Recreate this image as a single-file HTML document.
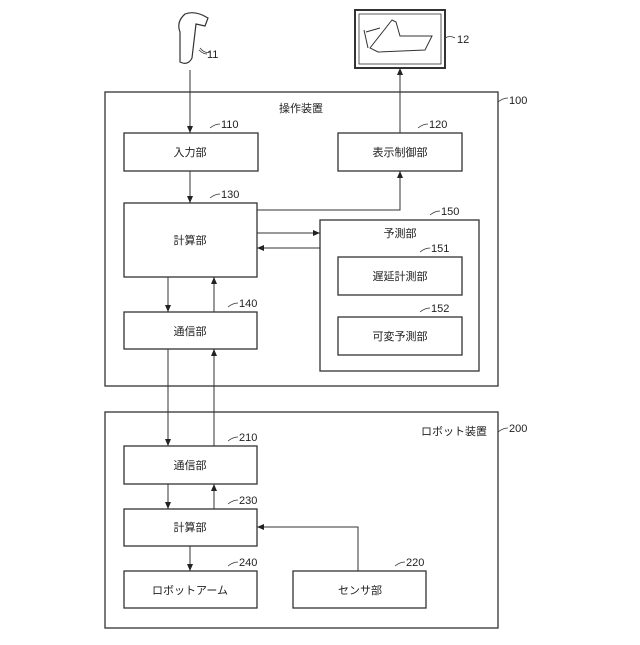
<!DOCTYPE html>
<html><head><meta charset="utf-8"><style>
body{margin:0;background:#fff}
svg text{font-family:"Liberation Sans","Noto Sans CJK JP",sans-serif;font-size:11px;fill:#222}
</style></head><body>
<svg width="640" height="640" viewBox="0 0 640 640" xmlns="http://www.w3.org/2000/svg">
<defs><marker id="a" markerWidth="8" markerHeight="8" refX="7" refY="4" orient="auto" markerUnits="userSpaceOnUse"><path d="M0,1 L7,4 L0,7z" fill="#222"/></marker></defs>
<g fill="none" stroke="#333" stroke-width="1.3">
<rect x="105" y="92" width="393" height="294"/>
<rect x="124" y="133" width="134" height="38"/>
<rect x="338" y="133" width="124" height="38"/>
<rect x="124" y="203" width="133" height="74"/>
<rect x="320" y="220" width="159" height="151"/>
<rect x="338" y="257" width="124" height="38"/>
<rect x="338" y="317" width="124" height="38"/>
<rect x="124" y="312" width="133" height="37"/>
<rect x="105" y="412" width="393" height="216"/>
<rect x="124" y="446" width="133" height="38"/>
<rect x="124" y="509" width="133" height="37"/>
<rect x="124" y="571" width="133" height="37"/>
<rect x="293" y="571" width="133" height="37"/>
<rect x="355" y="10" width="90" height="58" stroke-width="2"/>
<rect x="359" y="14" width="82" height="50" stroke-width="0.8"/>
<path d="M370,48 L392,20 L396,22 L400,36 L432,36 L425,50 L378,52 Z" stroke-width="1"/>
<path d="M364,30 L368,48 M366,32 L380,28" stroke-width="1"/>
<path d="M185,14 Q195,10 208,18 L205,26 L196,24 L192,58 Q188,66 180,62 L180,32 Q176,22 185,14Z" stroke-width="1.2"/>
<path d="M200,48 Q205,54 210,52" stroke-width="0.8"/>
</g>
<g stroke="#333" stroke-width="1" fill="none" marker-end="url(#a)">
<line x1="190" y1="70" x2="190" y2="133"/>
<line x1="190" y1="171" x2="190" y2="203"/>
<line x1="168" y1="277" x2="168" y2="312"/>
<line x1="214" y1="312" x2="214" y2="277"/>
<line x1="168" y1="349" x2="168" y2="446"/>
<line x1="214" y1="446" x2="214" y2="349"/>
<line x1="168" y1="484" x2="168" y2="509"/>
<line x1="214" y1="509" x2="214" y2="484"/>
<line x1="190" y1="546" x2="190" y2="571"/>
<polyline points="358,571 358,527 257,527"/>
<polyline points="257,210 400,210 400,171"/>
<line x1="400" y1="133" x2="400" y2="68"/>
<line x1="257" y1="233" x2="320" y2="233"/>
<line x1="320" y1="248" x2="257" y2="248"/>
</g>
<g stroke="#333" stroke-width="0.8" fill="none">
<path d="M199,50 q4,4 8,4"/>
<path d="M445,38 q5,-3 10,0"/>
<path d="M210,128 q5,-4 10,-4"/><path d="M418,128 q5,-4 10,-4"/>
<path d="M210,198 q5,-4 10,-4"/><path d="M430,215 q5,-4 10,-4"/>
<path d="M420,252 q5,-4 10,-4"/><path d="M420,312 q5,-4 10,-4"/>
<path d="M228,307 q5,-4 10,-4"/><path d="M498,102 q5,-4 10,-4"/>
<path d="M498,432 q5,-4 10,-4"/><path d="M228,441 q5,-4 10,-4"/>
<path d="M228,504 q5,-4 10,-4"/><path d="M228,566 q5,-4 10,-4"/>
<path d="M395,566 q5,-4 10,-4"/>
</g>
<g text-anchor="middle">
<text x="190" y="156">入力部</text>
<text x="400" y="156">表示制御部</text>
<text x="190" y="244">計算部</text>
<text x="400" y="237">予測部</text>
<text x="400" y="280">遅延計測部</text>
<text x="400" y="340">可変予測部</text>
<text x="190" y="335">通信部</text>
<text x="301" y="112">操作装置</text>
<text x="190" y="469">通信部</text>
<text x="190" y="531">計算部</text>
<text x="190" y="594">ロボットアーム</text>
<text x="360" y="594">センサ部</text>
<text x="454" y="435">ロボット装置</text>
</g>
<g font-size="11">
<text x="207" y="58">11</text><text x="457" y="43">12</text>
<text x="221" y="128">110</text><text x="429" y="128">120</text>
<text x="221" y="198">130</text><text x="441" y="215">150</text>
<text x="431" y="252">151</text><text x="431" y="312">152</text>
<text x="239" y="307">140</text><text x="509" y="104">100</text>
<text x="509" y="432">200</text><text x="239" y="441">210</text>
<text x="239" y="504">230</text><text x="239" y="566">240</text>
<text x="406" y="566">220</text>
</g>
</svg>
</body></html>
